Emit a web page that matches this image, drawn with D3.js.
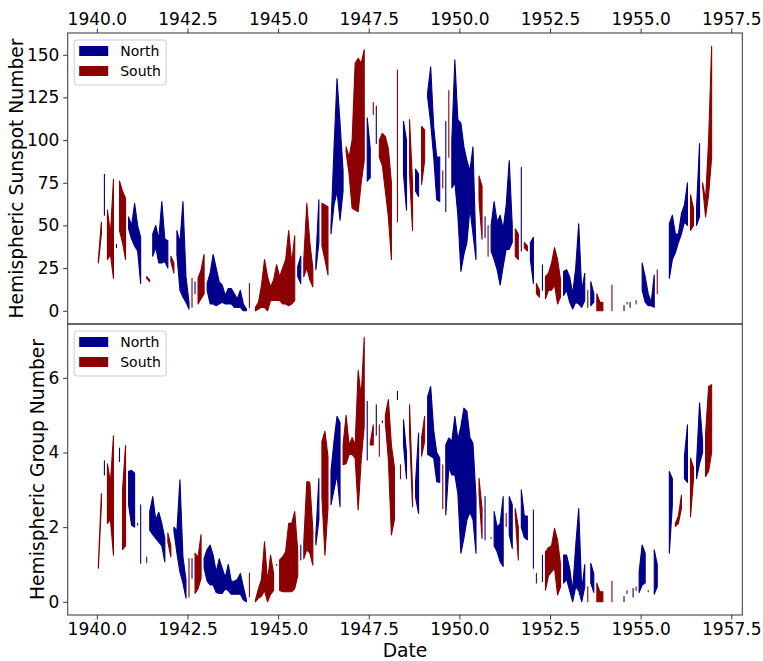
<!DOCTYPE html>
<html>
<head>
<meta charset="utf-8">
<script src="https://cdnjs.cloudflare.com/ajax/libs/d3/7.8.5/d3.min.js"></script>
<style>
    body { margin: 0; background: #fff; }
    svg text { font-family: "DejaVu Sans", sans-serif; fill: #000; }
</style>
</head>
<body>
<div id="chart"></div>
<script>
// monthly values, first month = Jan 1940, null = no data
var startYear = 1940;

var northSunspot = [
    28, 45, 80, 30, 33, 19, 39, 47, 40, 30,
    55, 50, 63, 50, 43, null, 19, 17, 45, 50,
    42, 64, 42, 41, 29, 22, 47, 40, 64, 20,
    5, 2, 17, 4, 7, 10, 16, 22, 33, 25,
    17, 15, 9, 13, 13, 10, 7, 12, 4, 1,
    2, null, 0, 1, 2, 2, 0, 6, 6, 6,
    6, 4, 4, 3, 4, 6, 26, 32, 20, 25,
    18, 14, 30, 65, 38, 30, 21, 50, 95, 136,
    110, 82, 93, 80, 60, 59, 58, 75, 88, 113,
    95, 115, 120, 90, 85, 70, 55, 30, null, 52,
    null, 111, 100, 80, 47, 83, 80, 74, 88, 128,
    143, 108, 90, 90, 72, 111, 90, 100, 147, 112,
    110, 96, 88, 82, 96, 35, 65, 42, 55, 32,
    50, 64, 52, 56, 48, 62, 88, 50, 32, 30,
    84, 37, 35, 40, 43, 10, 8, 27, 7, 12,
    12, 15, 4, 8, 23, 24, 20, 10, 25, 51,
    12, 22, 2, 17, 10, 0, 0, 0, null, null,
    0, null, null, null, 3, 4, 5, null, 4, null,
    28, 20, 10, 5, 21, 10, null, null, null, 51,
    56, 45, 45, 57, 62, 75, 47, 50, 60, 98,
    73, 55, 68, 90
];

var southSunspot = [
    30, 52, 56, 59, 45, 77, 37, 76, 70, 66,
    48, 42, 38, 35, 16, null, 20, 18, 32, 37,
    28, 28, 29, 25, 32, 28, 33, 12, 8, 5,
    1, 19, 10, 19, 24, 33, 12, 4, 4, 3,
    4, 5, 4, 4, 4, 2, 2, 2, 0, 0,
    16, null, 2, 5, 15, 30, 20, 14, 18, 27,
    20, 25, 30, 47, 28, 44, 20, 16, 30, 63,
    40, 25, 24, 40, 63, 62, 61, 45, 62, 70,
    53, 70, 96, 90, 100, 145, 148, 145, 153, 76,
    78, 122, 98, 100, 104, 102, 95, 75, null, 141,
    null, 80, 59, 112, 75, 70, 67, 108, 106, 125,
    110, 90, 65, 64, 82, 58, 129, 72, 75, 56,
    23, 33, 40, 60, 45, 30, 79, 73, 43, 50,
    35, 30, 24, 15, 26, 36, 36, 40, 48, 45,
    35, 40, 38, 30, 16, 16, 12, 12, 20, 22,
    28, 37, 30, 18, 9, 12, 5, 1, 5, 4,
    2, 6, 12, 3, 5, 10, 5, 5, null, null,
    15, null, null, null, 0, 5, 2, null, 6, null,
    12, 5, 3, 3, 2, 24, null, null, null, 19,
    30, 34, 40, 45, 52, 50, 68, 60, 50, 55,
    75, 65, 100, 155
];

var northGroup = [
    0.9, 2.6, 3.78, 2.1, 2.2, 1.25, null, 4.12, 1.4, 1.5,
    3.5, 3.52, 3.45, 2.05, 2.6, null, 1.05, 2.42, 2.82, 2.2,
    2.4, 2.1, 1.7, 1.6, 1.2, 2.0, 1.9, 3.27, 1.2, 0.6,
    0.13, 1.16, 0.22, 0.35, 0.63, 1.16, 1.4, 1.52, 1.25, 0.8,
    1.15, 0.9, 0.65, 1.0, 0.55, 0.55, 0.6, 0.76, 0.4, 0.05,
    0.13, null, 0, 0.1, 0.15, 0.3, 0, 0.2, 0.3, 1.0,
    0.3, 0.27, 0.27, 0.27, 0.27, 0.35, 0.7, 1.52, 1.15, 1.4,
    1.3, 0.98, 1.8, 3.3, 2.8, 1.25, 2.5, 3.5, 4.3, 4.97,
    4.8, 3.67, 3.7, 3.95, 3.95, 3.85, 2.46, 3.8, 4.7, 5.37,
    4.2, 4.2, 5.28, 3.9, 4.85, 4.8, 3.8, 1.79, 2.2, 5.64,
    3.3, 4.88, 4.0, 4.5, 2.55, 3.2, 4.52, 3.9, 4.3, 5.5,
    5.77, 4.6, 4.0, 3.85, 2.5, 4.2, 4.39, 4.3, 4.97, 4.35,
    4.7, 5.19, 5.1, 4.4, 4.25, 2.8, 2.9, 1.7, 2.82, null,
    1.7, 2.42, 2.0, 2.1, 2.82, 2.02, 2.82, 2.6, 2.3, 1.12,
    3.0, 2.3, 2.3, null, 2.46, 0.5, null, 1.25, 0.31, 0.7,
    0.8, 0.9, 0.18, 0.4, 1.25, 1.25, 0.9, 0.3, 1.5, 2.5,
    0.3, 1.0, 0, 1.03, 0.75, 0, 0, 0, null, null,
    0, null, null, null, 0.14, 0.22, null, 0.36, 0.3, 0.8,
    1.52, 1.3, 0.27, null, 1.39, 1.0, null, null, null, 3.49,
    3.3, 2.02, 2.1, 2.5, 3.9, 4.74, 2.28, 3.3, 3.7, 5.33,
    4.3, 3.36, 3.5, 4.0
];

var southGroup = [
    1.0, 2.9, 3.4, 3.7, 3.2, 4.45, null, 3.76, 3.0, 4.19,
    2.6, 2.05, 2.0, 2.1, 1.03, null, 1.2, 1.92, 1.8, 1.7,
    1.6, 1.5, 1.07, 1.84, 1.5, 1.9, 1.3, 0.8, 0.5, 0.1,
    1.16, 0.63, 1.3, 1.2, 1.8, 0.9, 0.55, 0.45, 0.45, 0.25,
    0.22, 0.22, 0.35, 0.3, 0.2, 0.2, 0.2, 0.2, 0.05, 0,
    0.76, null, 0.05, 0.35, 0.6, 1.61, 0.55, 1.25, 0.76, 0.98,
    1.12, 1.2, 1.35, 2.1, 2.1, 2.42, 1.35, 1.12, 1.6, 3.22,
    3.2, 1.9, 1.52, 2.2, 4.3, 4.57, 3.9, 2.6, 3.0, 3.4,
    2.55, 4.2, 5.0, 4.2, 4.4, 4.2, 6.2, 5.5, 7.09, 3.8,
    4.25, 4.74, 4.47, 4.74, 4.8, 5.0, 5.42, 4.2, 3.6, 5.42,
    3.67, 4.2, 3.3, 5.28, 3.0, 2.8, 2.37, 4.4, 4.97, 3.95,
    3.9, 3.85, 3.22, 3.2, 3.67, 2.33, 3.6, 3.4, 3.4, 2.9,
    1.3, 1.7, 2.2, 2.4, 2.2, 1.3, 3.31, 2.5, 1.66, null,
    1.73, 1.5, 1.34, 1.07, 0.95, 2.37, 1.8, 1.43, 2.5, 2.0,
    2.0, 1.72, 1.66, null, 0.9, 0.76, null, 0.54, 1.34, 1.45,
    1.5, 1.97, 1.65, 1.0, 0.5, 0.6, 0.3, 0, 0.4, 0.3,
    0, 0.4, 0.4, 0.5, 0.25, 0.5, 0.27, 0.27, null, null,
    0.55, null, null, null, 0, 0.3, null, 0.13, 0.4, 0.25,
    0.45, 0.5, 0.3, null, 0.2, 0.4, null, null, null, 1.3,
    2.6, 2.1, 2.3, 2.86, 3.3, 3.2, 3.85, 3.6, 3.3, 3.7,
    4.0, 4.5, 5.77, 5.82
];

var yearTicks = [1940, 1942.5, 1945, 1947.5, 1950, 1952.5, 1955, 1957.5];
var sunspotTicks = [0, 25, 50, 75, 100, 125, 150];
var groupTicks = [0, 2, 4, 6];
var seriesNames = ["North", "South"];
var seriesColors = ["#00008b", "#8b0000"];

var dates = northSunspot.map(function(d, i) { return startYear + (i + 0.5) / 12; });

var W = 763, H = 661;
var m = {left: 67.7, right: 20.7, top: 33};
var panelH = 291;
var plotW = W - m.left - m.right;

var svg = d3.select("#chart").append("svg")
    .attr("width", W)
    .attr("height", H);

// matplotlib style 5% margins
function padded(ext) {
    var d = (ext[1] - ext[0]) * 0.05;
    return [ext[0] - d, ext[1] + d];
}

var x = d3.scaleLinear()
    .domain(padded(d3.extent(dates)))
    .range([0, plotW]);

function runs(north, south, test) {
    var out = [], cur = [];
    for (var i = 0; i < dates.length; i++) {
        var n = north[i], s = south[i];
        if (n != null && s != null && test(n, s)) {
            cur.push(i);
        } else {
            if (cur.length) out.push(cur);
            cur = [];
        }
    }
    if (cur.length) out.push(cur);
    return out;
}

function drawPanel(top, north, south, yTicks, ylabel, labelX, xSide) {
    var g = svg.append("g").attr("transform", "translate(" + m.left + "," + top + ")");

    var all = north.concat(south).filter(function(v) { return v != null; });
    var y = d3.scaleLinear()
        .domain(padded(d3.extent(all)))
        .range([panelH, 0]);

    var area = d3.area()
        .x(function(i) { return x(dates[i]); })
        .y0(function(i) { return y(south[i]); })
        .y1(function(i) { return y(north[i]); });

    var tests = [
        function(n, s) { return n > s; },
        function(n, s) { return s > n; }
    ];

    tests.forEach(function(t, k) {
        g.append("g").selectAll("path")
            .data(runs(north, south, t))
            .enter().append("path")
            .attr("d", area)
            .attr("fill", seriesColors[k])
            .attr("stroke", seriesColors[k])
            .attr("stroke-width", 1.1)
            .attr("stroke-linejoin", "round");
    });

    var yAxis = g.append("g")
        .call(d3.axisLeft(y).tickValues(yTicks).tickSize(4.5).tickPadding(3.8).tickSizeOuter(0));
    yAxis.select(".domain").remove();
    yAxis.selectAll("line").attr("stroke", "#333");
    yAxis.selectAll("text").style("font-size", "17px");

    var xAxis;
    if (xSide == "top") {
        xAxis = g.append("g")
            .call(d3.axisTop(x).tickValues(yearTicks).tickFormat(d3.format(".1f")).tickSize(4.5).tickPadding(3.5).tickSizeOuter(0));
    } else {
        xAxis = g.append("g")
            .attr("transform", "translate(0," + panelH + ")")
            .call(d3.axisBottom(x).tickValues(yearTicks).tickFormat(d3.format(".1f")).tickSize(4.5).tickPadding(3.5).tickSizeOuter(0));
    }
    xAxis.select(".domain").remove();
    xAxis.selectAll("line").attr("stroke", "#333");
    xAxis.selectAll("text").style("font-size", "17px");

    // frame
    g.append("rect")
        .attr("width", plotW)
        .attr("height", panelH)
        .attr("fill", "none")
        .attr("stroke", "#333")
        .attr("stroke-width", 1);

    svg.append("text")
        .attr("transform", "translate(" + labelX + "," + (top + panelH / 2) + ")rotate(-90)")
        .attr("text-anchor", "middle")
        .style("font-size", "18.7px")
        .text(ylabel);

    // legend
    var lg = g.append("g").attr("transform", "translate(6.5,7)");
    lg.append("rect")
        .attr("width", 92)
        .attr("height", 45)
        .attr("rx", 3)
        .attr("fill", "#fff")
        .attr("fill-opacity", 0.8)
        .attr("stroke", "#ccc")
        .attr("stroke-width", 1);
    seriesNames.forEach(function(name, k) {
        lg.append("rect")
            .attr("x", 5)
            .attr("y", 6 + k * 20)
            .attr("width", 29)
            .attr("height", 10)
            .attr("fill", seriesColors[k]);
        lg.append("text")
            .attr("x", 46)
            .attr("y", 11 + k * 20)
            .attr("dy", "0.35em")
            .style("font-size", "14px")
            .text(name);
    });
}

drawPanel(m.top, northSunspot, southSunspot, sunspotTicks, "Hemispheric Sunspot Number", 23, "top");
drawPanel(m.top + panelH, northGroup, southGroup, groupTicks, "Hemispheric Group Number", 44, "bottom");

svg.append("text")
    .attr("x", m.left + plotW / 2)
    .attr("y", 657)
    .attr("text-anchor", "middle")
    .style("font-size", "18.7px")
    .text("Date");
</script>
</body>
</html>
